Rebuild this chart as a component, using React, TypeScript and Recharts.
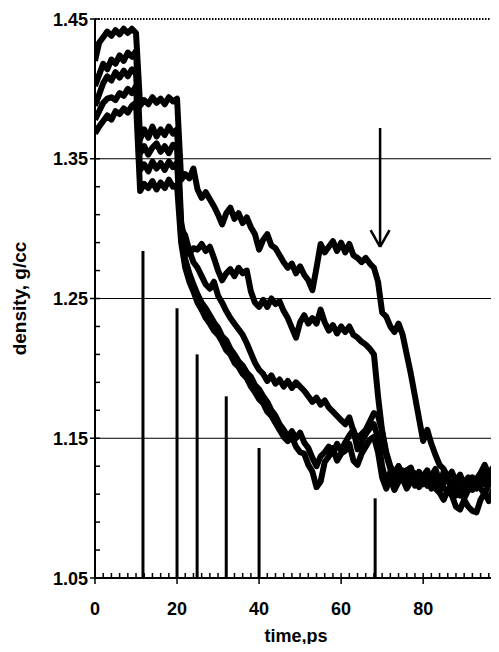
import { ComposedChart, Line, Bar, XAxis, YAxis, ReferenceLine } from 'recharts'

// density traces, one reading per ps, t = 0 .. 98
const traceA = [
  1.42, 1.433, 1.437, 1.441, 1.438, 1.442, 1.439, 1.443, 1.44, 1.443, 1.44,
  1.388, 1.392, 1.389, 1.394, 1.39, 1.393, 1.389, 1.394, 1.391, 1.393,
  1.335, 1.339, 1.336, 1.343, 1.328, 1.322, 1.326, 1.321, 1.316, 1.31,
  1.303, 1.311, 1.315, 1.307, 1.311, 1.304, 1.308, 1.301, 1.296, 1.285,
  1.292, 1.296, 1.288, 1.286, 1.281, 1.276, 1.272, 1.275, 1.268, 1.273,
  1.267, 1.263, 1.256, 1.272, 1.289, 1.283, 1.287, 1.291, 1.284, 1.29,
  1.283, 1.289, 1.281, 1.279, 1.276, 1.279, 1.275, 1.272, 1.262, 1.24,
  1.237, 1.23, 1.226, 1.232, 1.224, 1.21, 1.196, 1.18, 1.164, 1.148,
  1.156, 1.146, 1.138, 1.131, 1.128, 1.122, 1.126, 1.119, 1.124, 1.117,
  1.122, 1.116, 1.121, 1.125, 1.117, 1.122, 1.126, 1.12
]
const traceB = [
  1.402, 1.41, 1.418, 1.414, 1.421, 1.418, 1.424, 1.42, 1.426, 1.423, 1.427,
  1.364, 1.371, 1.365, 1.373, 1.366, 1.371, 1.367, 1.373, 1.368, 1.371,
  1.305, 1.288, 1.282, 1.286, 1.285, 1.289, 1.284, 1.287, 1.279, 1.27,
  1.263, 1.268, 1.271, 1.266, 1.272, 1.268, 1.27, 1.255, 1.247, 1.244,
  1.249, 1.244, 1.25, 1.246, 1.248, 1.241, 1.236, 1.229, 1.222, 1.233,
  1.238, 1.232, 1.236, 1.232, 1.242, 1.233, 1.227, 1.231, 1.225, 1.23,
  1.226, 1.23, 1.224, 1.222, 1.219, 1.217, 1.214, 1.21, 1.18, 1.155,
  1.138, 1.128, 1.124, 1.13, 1.122, 1.127, 1.119, 1.125, 1.117, 1.123,
  1.127, 1.119, 1.124, 1.117, 1.126, 1.12, 1.115, 1.121, 1.114, 1.11,
  1.118, 1.122, 1.114, 1.124, 1.128, 1.12, 1.126, 1.122
]
const traceC = [
  1.388, 1.396, 1.404, 1.409, 1.406, 1.412, 1.408, 1.413, 1.409, 1.414, 1.411,
  1.354, 1.359, 1.353, 1.358, 1.361, 1.355, 1.359, 1.354, 1.36, 1.357,
  1.3, 1.295, 1.284, 1.276, 1.272, 1.266, 1.26, 1.257, 1.262, 1.252,
  1.247, 1.241, 1.236, 1.232, 1.228, 1.224, 1.218, 1.211, 1.204, 1.199,
  1.196, 1.191, 1.195, 1.189, 1.192, 1.187, 1.191, 1.186, 1.19, 1.187,
  1.184, 1.18, 1.176, 1.179, 1.174, 1.177, 1.172, 1.169, 1.166, 1.163,
  1.16, 1.165, 1.155, 1.15, 1.153, 1.156, 1.162, 1.168, 1.166, 1.155,
  1.14, 1.13, 1.125, 1.13, 1.121, 1.127, 1.129, 1.119, 1.123, 1.117,
  1.122, 1.114, 1.119, 1.112, 1.118, 1.121, 1.113, 1.109, 1.114, 1.107,
  1.113, 1.119, 1.121, 1.114, 1.11, 1.117, 1.121, 1.116
]
const traceD = [
  1.378, 1.384, 1.39, 1.393, 1.394, 1.392, 1.397, 1.395, 1.4, 1.397, 1.402,
  1.342, 1.346, 1.341, 1.348, 1.343, 1.347, 1.342, 1.348, 1.344, 1.347,
  1.295, 1.278, 1.268, 1.26, 1.253, 1.247, 1.243, 1.238, 1.233, 1.229,
  1.223, 1.22, 1.214, 1.21, 1.205, 1.202, 1.197, 1.194, 1.188, 1.185,
  1.18, 1.176, 1.17, 1.166, 1.16, 1.156, 1.151, 1.155, 1.15, 1.154,
  1.147, 1.143, 1.136, 1.13, 1.137, 1.14, 1.144, 1.139, 1.146, 1.141,
  1.147, 1.152, 1.156, 1.142, 1.147, 1.153, 1.157, 1.16, 1.15, 1.13,
  1.118, 1.126, 1.117, 1.123, 1.127, 1.118, 1.124, 1.116, 1.126, 1.12,
  1.116, 1.123, 1.128, 1.119, 1.115, 1.111, 1.119, 1.113, 1.109, 1.116,
  1.121, 1.113, 1.119, 1.125, 1.131, 1.124, 1.129, 1.125
]
const traceE = [
  1.368, 1.373, 1.377, 1.381, 1.378, 1.384, 1.382, 1.386, 1.383, 1.388, 1.39,
  1.327, 1.332, 1.329, 1.334, 1.328, 1.333, 1.329, 1.335, 1.33, 1.331,
  1.29, 1.272, 1.262, 1.255, 1.247, 1.242, 1.236, 1.232, 1.227, 1.224,
  1.219, 1.213, 1.21, 1.204, 1.201, 1.196, 1.193, 1.187, 1.183, 1.178,
  1.175, 1.169, 1.166, 1.161, 1.156, 1.151, 1.148, 1.151, 1.144, 1.14,
  1.139, 1.131, 1.126, 1.115, 1.119, 1.133, 1.137, 1.143, 1.134, 1.139,
  1.141, 1.146, 1.134, 1.131, 1.139, 1.144, 1.149, 1.151, 1.14, 1.122,
  1.114, 1.121, 1.113, 1.119, 1.121, 1.114, 1.119, 1.121, 1.115, 1.121,
  1.125, 1.117, 1.114, 1.111, 1.106, 1.113, 1.109, 1.101, 1.099, 1.106,
  1.101, 1.098, 1.097, 1.106, 1.111, 1.105, 1.113, 1.108
]
const traces = [traceA, traceB, traceC, traceD, traceE]

// vertical marker bars
const spikeTimes = [11.7, 20, 24.9, 32, 40, 68.3]
const spikeHeights = [1.284, 1.243, 1.21, 1.18, 1.143, 1.107]

// arrow pointing at the top trace
const arrowTail = { x: 69.5, y: 1.372 }
const arrowTip = { x: 69.5, y: 1.287 }
const arrowWingL = { x: 67.2, y: 1.299 }
const arrowWingR = { x: 71.8, y: 1.299 }

const xTicks = [
  0, 2, 4, 6, 8, 10, 12, 14, 16, 18, 20, 22, 24, 26, 28, 30, 32, 34, 36, 38, 40,
  42, 44, 46, 48, 50, 52, 54, 56, 58, 60, 62, 64, 66, 68, 70, 72, 74, 76, 78, 80,
  82, 84, 86, 88, 90, 92, 94, 96
]
const xMajor = [0, 20, 40, 60, 80]
const yTicks = [
  1.05, 1.07, 1.09, 1.11, 1.13, 1.15, 1.17, 1.19, 1.21, 1.23, 1.25,
  1.27, 1.29, 1.31, 1.33, 1.35, 1.37, 1.39, 1.41, 1.43, 1.45
]
const yMajor = [1.05, 1.15, 1.25, 1.35, 1.45]
const gridLevels = [1.15, 1.25, 1.35]

const spikes = spikeTimes.map((t, i) => ({ t, h: spikeHeights[i] }))
const series = traces.map(vals => vals.map((v, t) => ({ t, v })))

const font = '"Liberation Sans", Arial, sans-serif'

function XTick (props: any) {
  const { x, y, payload } = props
  const major = xMajor.includes(payload.value)
  return (
    <g>
      <line x1={x} x2={x} y1={y - 5} y2={major ? y + 6 : y} stroke="#000" strokeWidth={1.5} />
      {major && (
        <text x={x} y={y + 37} textAnchor="middle" fontSize={18} fontWeight="bold" fontFamily={font} fill="#000">
          {payload.value}
        </text>
      )}
    </g>
  )
}

function YTick (props: any) {
  const { x, y, payload } = props
  const major = yMajor.some(m => Math.abs(m - payload.value) < 1e-6)
  return (
    <g>
      <line x1={major ? x - 5 : x} x2={x + 5} y1={y} y2={y} stroke="#000" strokeWidth={1.5} />
      {major && (
        <text x={x - 7} y={y + 6.5} textAnchor="end" fontSize={18} fontWeight="bold" fontFamily={font} fill="#000">
          {payload.value.toFixed(2)}
        </text>
      )}
    </g>
  )
}

function Spike (props: any) {
  const { x, y, width, height } = props
  return <rect x={x + width / 2 - 1.5} y={y} width={3} height={height} fill="#000" />
}

export default function App () {
  return (
    <div style={{ width: 491, height: 652, marginTop: -8, marginBottom: -8 }}>
      <ComposedChart width={491} height={652} data={spikes} margin={{ top: 19, right: 2, left: 0, bottom: 0 }}>
        <XAxis
          dataKey="t"
          type="number"
          domain={[0, 98]}
          ticks={xTicks}
          interval={0}
          tick={XTick}
          tickLine={false}
          tickSize={0}
          tickMargin={0}
          height={74}
          axisLine={{ stroke: '#000', strokeWidth: 2 }}
          allowDataOverflow
          label={{ value: 'time,ps', position: 'insideBottom', offset: 10, fontSize: 18, fontWeight: 'bold', fontFamily: font, fill: '#000' }}
        />
        <YAxis
          type="number"
          domain={[1.05, 1.45]}
          ticks={yTicks}
          interval={0}
          tick={YTick}
          tickLine={false}
          tickSize={0}
          tickMargin={0}
          width={87}
          axisLine={{ stroke: '#000', strokeWidth: 2 }}
          allowDataOverflow
          label={{ value: 'density, g/cc', angle: -90, position: 'insideLeft', offset: 11, fontSize: 19, fontWeight: 'bold', fontFamily: font, fill: '#000', style: { textAnchor: 'middle' } }}
        />
        {gridLevels.map(g => (
          <ReferenceLine key={g} y={g} stroke="#000" strokeWidth={1} />
        ))}
        <ReferenceLine y={1.45} stroke="#000" strokeWidth={2} strokeDasharray="1.5 1.5" />
        <ReferenceLine x={98} stroke="#555" strokeWidth={1} strokeDasharray="2 2" />
        <Bar dataKey="h" fill="#000" barSize={3} shape={Spike} isAnimationActive={false} />
        {series.map((pts, i) => (
          <Line
            key={i}
            data={pts}
            dataKey="v"
            type="linear"
            dot={false}
            stroke="#000"
            strokeWidth={6}
            strokeLinejoin="round"
            isAnimationActive={false}
          />
        ))}
        <ReferenceLine segment={[arrowTail, arrowTip]} stroke="#000" strokeWidth={2.5} />
        <ReferenceLine segment={[arrowWingL, arrowTip]} stroke="#000" strokeWidth={2.5} />
        <ReferenceLine segment={[arrowWingR, arrowTip]} stroke="#000" strokeWidth={2.5} />
      </ComposedChart>
    </div>
  )
}
